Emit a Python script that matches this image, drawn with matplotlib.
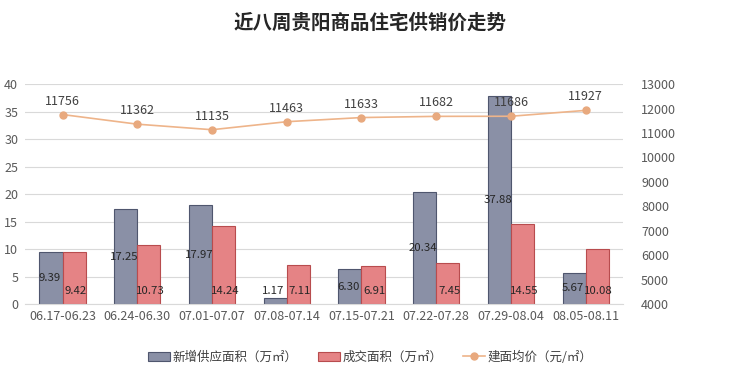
import matplotlib.pyplot as plt
import numpy as np

plt.rcParams['font.family'] = ['Noto Sans CJK SC', 'DejaVu Sans']

weeks = ['06.17-06.23', '06.24-06.30', '07.01-07.07', '07.08-07.14',
         '07.15-07.21', '07.22-07.28', '07.29-08.04', '08.05-08.11']
supply = [9.39, 17.25, 17.97, 1.17, 6.30, 20.34, 37.88, 5.67]
deals = [9.42, 10.73, 14.24, 7.11, 6.91, 7.45, 14.55, 10.08]
price = [11756, 11362, 11135, 11463, 11633, 11682, 11686, 11927]

fig = plt.figure(figsize=(7.4, 3.74), dpi=100)
ax = fig.add_axes([0.034, 0.187, 0.808, 0.588])
ax2 = ax.twinx()

x = np.arange(len(weeks))
w = 0.31
b1 = ax.bar(x - w / 2, supply, w, color='#8a90a6', edgecolor='#4f566e', linewidth=0.8,
            label='新增供应面积（万㎡）', zorder=2)
b2 = ax.bar(x + w / 2, deals, w, color='#e58385', edgecolor='#b84c4e', linewidth=0.8,
            label='成交面积（万㎡）', zorder=2)

for xi, v in zip(x, supply):
    ax.text(xi - w / 2 - 0.02, max(v / 2, 2.3), f'{v:.2f}', ha='center', va='center',
            fontsize=8.2, color='#262626', zorder=5)
for xi, v in zip(x, deals):
    ax.text(xi + w / 2 + 0.02, 2.4, f'{v:.2f}', ha='center', va='center',
            fontsize=8.2, color='#262626', zorder=5)

ax.set_ylim(0, 40)
ax.set_yticks(range(0, 41, 5))
ax.set_xlim(-0.5, len(weeks) - 0.5)
ax.set_xticks(x)
ax.set_xticklabels(weeks)
ax.grid(axis='y', color='#d9d9d9', linewidth=0.8, zorder=0)
ax.set_axisbelow(True)

ln, = ax2.plot(x, price, color='#eeb48a', linewidth=1.2, marker='o', markersize=5,
               markerfacecolor='#e8a97e', markeredgecolor='#e8a97e',
               label='建面均价（元/㎡）', zorder=4)
for xi, v in zip(x, price):
    ax2.annotate(str(v), (xi, v), xytext=(0, 5), textcoords='offset points',
                 ha='center', va='bottom', fontsize=9, color='#404040')
ax2.set_ylim(4000, 13000)
ax2.set_yticks(range(4000, 13001, 1000))

for a in (ax, ax2):
    for s in a.spines.values():
        s.set_visible(False)
    a.tick_params(length=0, labelsize=9, colors='#595959')
ax.spines['bottom'].set_visible(True)
ax.spines['bottom'].set_color('#d9d9d9')
ax.tick_params(axis='y', pad=5)
ax2.tick_params(axis='y', pad=13)
ax.tick_params(axis='x', pad=4)

fig.suptitle('近八周贵阳商品住宅供销价走势', x=0.5, y=0.965, fontsize=14,
             fontweight='bold', color='#262626')

fig.legend(handles=[b1, b2, ln], loc='center', bbox_to_anchor=(0.5, 0.045), ncol=3,
           frameon=False, fontsize=9, handlelength=1.8, columnspacing=1.6,
           handletextpad=0.2, labelcolor='#404040')

fig.savefig('out.png', dpi=100)
